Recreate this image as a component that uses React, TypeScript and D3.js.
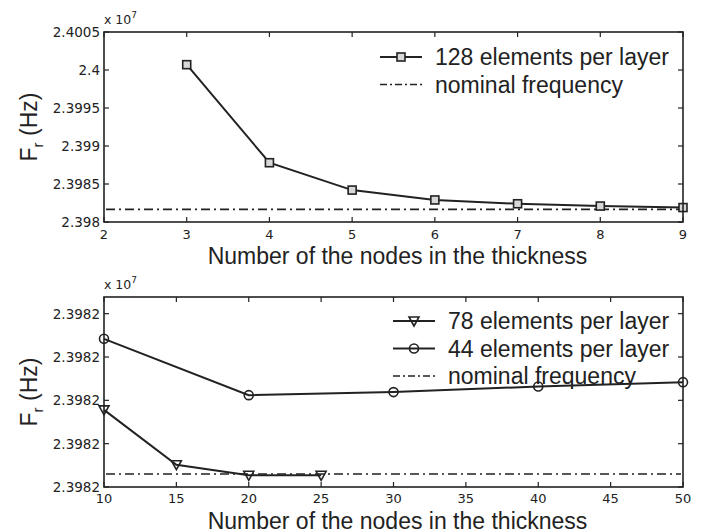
import React from 'react';
import * as d3 from 'd3';

// ---- Data (frequencies in units of 1e7 Hz) ----
const topNodes = [3, 4, 5, 6, 7, 8, 9];
const topF128 = [2.40007, 2.39878, 2.39842, 2.39829, 2.39824, 2.39821, 2.39819];
const nominalF = 2.3981666;
const topXTicks = [2, 3, 4, 5, 6, 7, 8, 9];
const topYTicks = [2.398, 2.3985, 2.399, 2.3995, 2.4, 2.4005];

const botNodes78 = [10, 15, 20, 25];
const botF78 = [2.39816956, 2.39816703, 2.39816654, 2.39816654];
const botNodes44 = [10, 20, 30, 40, 50];
const botF44 = [2.39817284, 2.39817024, 2.39817038, 2.39817064, 2.39817084];
const botXTicks = [10, 15, 20, 25, 30, 35, 40, 45, 50];
const botYTicks = [2.398166, 2.398168, 2.39817, 2.398172, 2.398174];

const label128 = '128 elements per layer';
const label78 = '78 elements per layer';
const label44 = '44 elements per layer';
const labelNom = 'nominal frequency';
const xTitle = 'Number of the nodes in the thickness';

const INK = '#222';
const FONT = '"Liberation Sans", Arial, Helvetica, sans-serif';
const TICKFONT = '"DejaVu Sans", sans-serif';
const fmt = d3.format('.5');

type Series = { xs: number[]; ys: number[]; marker: 'square' | 'circle' | 'tri'; label: string };

function Marker({ kind, x, y }: { kind: string; x: number; y: number }) {
  if (kind === 'square')
    return <rect x={x - 4} y={y - 4} width={8} height={8} fill="#d8d8d8" stroke={INK} strokeWidth={1.6} />;
  if (kind === 'circle')
    return <circle cx={x} cy={y} r={4.5} fill="none" stroke={INK} strokeWidth={1.6} />;
  return (
    <path d={`M${x - 5},${y - 4}L${x + 5},${y - 4}L${x},${y + 5}Z`} fill="none" stroke={INK} strokeWidth={1.6} />
  );
}

function Panel(props: {
  top: number; bottom: number; left: number; right: number;
  xDomain: [number, number]; yDomain: [number, number];
  xTicks: number[]; yTicks: number[];
  series: Series[]; legendY: number; legendRight: number;
  xLabelY: number; xTickY: number;
}) {
  const { top, bottom, left, right, xDomain, yDomain, xTicks, yTicks, series } = props;
  const x = d3.scaleLinear().domain(xDomain).range([left, right]);
  const y = d3.scaleLinear().domain(yDomain).range([bottom, top]);
  const line = d3.line<[number, number]>().x(d => x(d[0])).y(d => y(d[1]));
  const dash = '9 4 2 4';
  const legendEntries = [...series.map(s => ({ kind: s.marker, label: s.label })), { kind: 'nom', label: labelNom }];
  return (
    <g>
      <line x1={x(xDomain[0]) + 2} x2={x(xDomain[1]) - 2} y1={y(nominalF)} y2={y(nominalF)}
        stroke={INK} strokeWidth={1.6} strokeDasharray={dash} />
      {series.map((s, i) => (
        <g key={i}>
          <path d={line(s.xs.map((v, j) => [v, s.ys[j]]) as [number, number][]) || ''}
            fill="none" stroke={INK} strokeWidth={2} />
          {s.xs.map((v, j) => <Marker key={j} kind={s.marker} x={x(v)} y={y(s.ys[j])} />)}
        </g>
      ))}
      <rect x={left} y={top} width={right - left} height={bottom - top} fill="none" stroke={INK} strokeWidth={1.6} />
      {xTicks.map((t, i) => (
        <g key={'x' + i}>
          <line x1={x(t)} x2={x(t)} y1={bottom} y2={bottom - 5} stroke={INK} strokeWidth={1.2} />
          <line x1={x(t)} x2={x(t)} y1={top} y2={top + 5} stroke={INK} strokeWidth={1.2} />
          <text x={x(t)} y={props.xTickY} textAnchor="middle" dominantBaseline="central"
            fontFamily={TICKFONT} fontSize={13} fill={INK}>{t}</text>
        </g>
      ))}
      {yTicks.map((t, i) => (
        <g key={'y' + i}>
          <line x1={left} x2={left + 5} y1={y(t)} y2={y(t)} stroke={INK} strokeWidth={1.2} />
          <line x1={right} x2={right - 5} y1={y(t)} y2={y(t)} stroke={INK} strokeWidth={1.2} />
          <text x={left - 4} y={y(t)} textAnchor="end" dominantBaseline="central"
            fontFamily={TICKFONT} fontSize={13.5} fill={INK}>{fmt(t)}</text>
        </g>
      ))}
      <text x={left} y={top - 8} fontFamily={TICKFONT} fontSize={12.5} fill={INK}>
        x 10<tspan dy={-6} fontSize={9}>7</tspan>
      </text>
      <text x={(left + right) / 2 + 4} y={props.xLabelY} textAnchor="middle" fontFamily={FONT} fontSize={23} fill={INK}>
        {xTitle}
      </text>
      <text transform={`translate(37,${(top + bottom) / 2}) rotate(-90)`} textAnchor="middle"
        fontFamily={FONT} fontSize={23} fill={INK}>
        F<tspan dy={6} fontSize={15}>r</tspan><tspan dy={-6}> (Hz)</tspan>
      </text>
      {legendEntries.map((e, i) => {
        const ly = props.legendY + i * 27.5;
        const tx = props.legendRight;
        return (
          <g key={'l' + i}>
            <line x1={tx - 55} x2={tx - 13} y1={ly} y2={ly} stroke={INK}
              strokeWidth={e.kind === 'nom' ? 1.3 : 1.8} strokeDasharray={e.kind === 'nom' ? '7 3 2 3' : undefined} />
            {e.kind !== 'nom' && <Marker kind={e.kind} x={tx - 34} y={ly} />}
            <text x={tx} y={ly} dominantBaseline="central" fontFamily={FONT} fontSize={23} fill={INK}>{e.label}</text>
          </g>
        );
      })}
    </g>
  );
}

export default function App() {
  const topS: Series[] = [{ xs: topNodes, ys: topF128, marker: 'square', label: label128 }];
  const botS: Series[] = [
    { xs: botNodes78, ys: botF78, marker: 'tri', label: label78 },
    { xs: botNodes44, ys: botF44, marker: 'circle', label: label44 },
  ];
  const step = botYTicks[1] - botYTicks[0];
  return (
    <svg width={704} height={532} style={{ position: 'absolute', left: 0, top: 0, background: '#fff' }}>
      <rect width={704} height={532} fill="#fff" />
      <Panel top={32} bottom={222} left={104} right={683} xDomain={[2, 9]} yDomain={[2.398, 2.4005]}
        xTicks={topXTicks} yTicks={topYTicks} series={topS} legendY={57} legendRight={435}
        xLabelY={264} xTickY={234.5} />
      <Panel top={297} bottom={487} left={104} right={683} xDomain={[10, 50]}
        yDomain={[botYTicks[0], botYTicks[botYTicks.length - 1] + 0.385 * step]}
        xTicks={botXTicks} yTicks={botYTicks} series={botS} legendY={321} legendRight={448}
        xLabelY={528.5} xTickY={498.5} />
    </svg>
  );
}
